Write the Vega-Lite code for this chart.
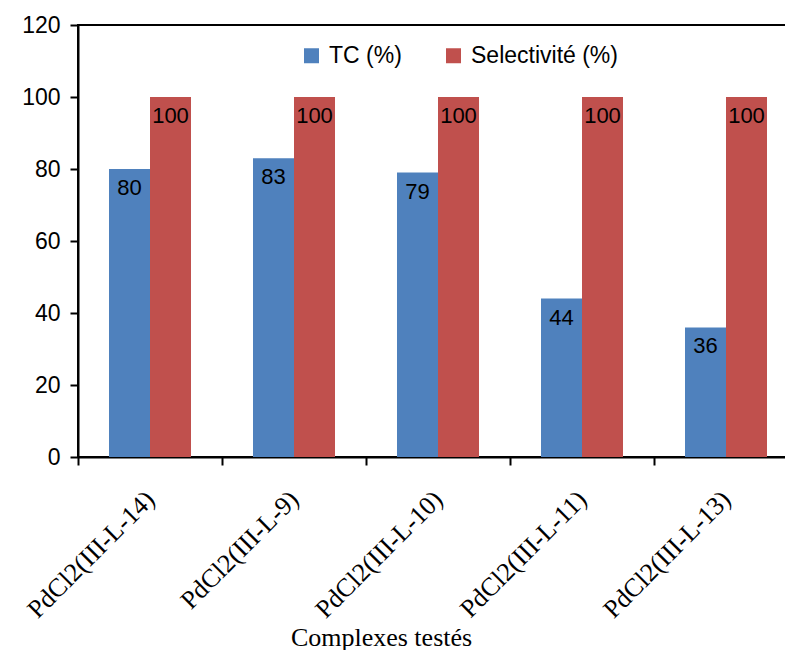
{
  "$schema": "https://vega.github.io/schema/vega-lite/v6.json",
  "autosize": {"type": "none"},
  "padding": {"left": 78, "top": 25, "right": 0, "bottom": 193},
  "width": 720,
  "height": 432,
  "background": "white",
  "config": {
    "view": {"stroke": "black", "strokeWidth": 2},
    "axis": {"grid": false, "domainColor": "black", "tickColor": "black", "labelColor": "black", "titleColor": "black"}
  },
  "data": {
    "values": [
      {"complexe": "PdCl2(III-L-14)", "serie": "TC (%)", "valeur": 80},
      {"complexe": "PdCl2(III-L-14)", "serie": "Selectivité (%)", "valeur": 100},
      {"complexe": "PdCl2(III-L-9)", "serie": "TC (%)", "valeur": 83},
      {"complexe": "PdCl2(III-L-9)", "serie": "Selectivité (%)", "valeur": 100},
      {"complexe": "PdCl2(III-L-10)", "serie": "TC (%)", "valeur": 79},
      {"complexe": "PdCl2(III-L-10)", "serie": "Selectivité (%)", "valeur": 100},
      {"complexe": "PdCl2(III-L-11)", "serie": "TC (%)", "valeur": 44},
      {"complexe": "PdCl2(III-L-11)", "serie": "Selectivité (%)", "valeur": 100},
      {"complexe": "PdCl2(III-L-13)", "serie": "TC (%)", "valeur": 36},
      {"complexe": "PdCl2(III-L-13)", "serie": "Selectivité (%)", "valeur": 100}
    ]
  },
  "encoding": {
    "x": {
      "field": "complexe", "type": "nominal", "sort": null,
      "scale": {"paddingInner": 0, "paddingOuter": 0},
      "axis": {
        "title": "Complexes testés",
        "titleFont": "Liberation Serif", "titleFontSize": 26, "titleFontWeight": "normal",
        "titleX": 303, "titleY": 188, "titleBaseline": "alphabetic", "titleAlign": "center", "titleAnchor": null,
        "labelFont": "Liberation Serif", "labelFontSize": 26, "labelAngle": -45,
        "labelAlign": "right", "labelBaseline": "middle", "labelPadding": 30, "labelLimit": 400,
        "tickBand": "extent", "tickSize": 8, "tickWidth": 2, "domainWidth": 2
      }
    },
    "xOffset": {"field": "serie", "type": "nominal", "sort": ["TC (%)", "Selectivité (%)"],
      "scale": {"paddingInner": 0, "paddingOuter": 0.756}},
    "y": {
      "field": "valeur", "type": "quantitative",
      "scale": {"domain": [0, 120], "nice": false},
      "axis": {
        "title": null, "values": [0, 20, 40, 60, 80, 100, 120],
        "labelFont": "Liberation Sans", "labelFontSize": 23, "labelPadding": 10,
        "tickSize": 8, "tickWidth": 2, "domainWidth": 2
      }
    }
  },
  "layer": [
    {
      "mark": {"type": "bar"},
      "encoding": {
        "color": {
          "field": "serie", "type": "nominal",
          "scale": {"domain": ["TC (%)", "Selectivité (%)"], "range": ["#4F81BD", "#C0504D"]},
          "legend": {
            "title": null, "orient": "none", "direction": "horizontal",
            "legendX": 222, "legendY": 19, "padding": 0,
            "symbolType": "square", "symbolSize": 225, "symbolStrokeWidth": 0,
            "labelFont": "Liberation Sans", "labelFontSize": 23, "labelOffset": 6,
            "columnPadding": 40, "labelLimit": 300
          }
        }
      }
    },
    {
      "mark": {"type": "text", "baseline": "middle", "dy": 19, "font": "Liberation Sans", "fontSize": 22, "color": "black"},
      "encoding": {
        "text": {"field": "valeur", "type": "quantitative"}
      }
    }
  ]
}
